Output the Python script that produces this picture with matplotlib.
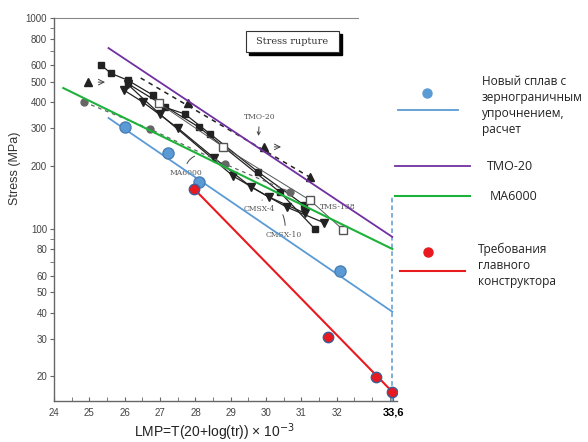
"""
Stress-rupture LMP chart: scanned reference alloys + new alloy estimate and design requirement.
"""
import numpy as np
import matplotlib.pyplot as plt
import matplotlib.ticker as mticker
from matplotlib.lines import Line2D
from matplotlib.patches import Rectangle

plt.rcParams['font.family'] = ['Liberation Sans', 'DejaVu Sans']

# ---- Data (LMP x 10^-3, stress MPa) ----
# new grain-boundary strengthened alloy, calculated
new_x = [26.02, 27.22, 28.10, 32.09]
new_y = [304, 229, 167, 63]
new_line_x = [25.54, 33.57]
new_line_y = [336, 40.5]

# chief designer requirements
req_x = [27.96, 31.75, 33.12, 33.57]
req_y = [155, 30.8, 19.9, 16.9]

tmo_line_x = [25.54, 33.57]
tmo_line_y = [721, 91.7]
ma_line_x = [24.26, 33.57]
ma_line_y = [466, 80.4]

# scanned literature data (black markers)
sqA_x = [25.34, 25.60, 26.08, 26.79, 27.13, 27.70, 28.42, 29.78, 31.07]
sqA_y = [598, 548, 508, 432, 378, 351, 282, 186, 130]
sqB_x = [26.08, 28.10, 30.38, 31.38]
sqB_y = [490, 304, 150, 100]
tdA_x = [25.97, 26.51, 27.50, 28.53, 29.58, 30.58, 31.64]
tdA_y = [456, 400, 301, 217, 158, 127, 107]
tdB_x = [26.08, 26.99, 29.07, 30.07, 31.09]
tdB_y = [486, 351, 178, 142, 119]
tms_x = [26.96, 28.79, 31.24, 32.18]
tms_y = [395, 245, 137, 99]
ma_x = [24.85, 26.71, 28.84, 30.67]
ma_y = [400, 298, 203, 150]
tmo_x = [24.97, 27.79, 29.95, 31.24]
tmo_y = [497, 395, 245, 176]
tmo_fit_x = [26.45, 31.24]
tmo_fit_y = [520, 176]

xticks = [24, 25, 26, 27, 28, 29, 30, 31, 32, 33.6]
xlabels = ['24', '25', '26', '27', '28', '29', '30', '31', '32', '33,6']
yticks = [20, 30, 40, 50, 60, 80, 100, 200, 300, 400, 500, 600, 800, 1000]

BLUE = '#5b9bd5'
PURPLE = '#7030a0'
GREEN = '#1db33a'
RED = '#e8191f'
INK = '#222222'

fig = plt.figure(figsize=(5.88, 4.42), dpi=100)
ax = fig.add_axes([0.092, 0.093, 0.583, 0.866])
ax.set_yscale('log')
ax.set_xlim(24, 33.7)
ax.set_ylim(15.3, 1000)

# ---- scanned series ----
ax.plot(sqA_x, sqA_y, 's-', color=INK, lw=0.9, ms=4.8, zorder=3)
ax.plot(sqB_x, sqB_y, 's-', color=INK, lw=0.9, ms=4.8, zorder=3)
ax.plot(tdA_x, tdA_y, 'v-', color=INK, lw=0.9, ms=6, zorder=3)
ax.plot(tdB_x, tdB_y, 'v-', color=INK, lw=0.9, ms=6, zorder=3)
ax.plot(tms_x, tms_y, 's-', color='#555555', mfc='white', lw=0.7, ms=5.5, zorder=3)
ax.plot(ma_x, ma_y, 'o--', color='#666666', lw=0.9, ms=5, dashes=(3, 3), zorder=3)
ax.plot(tmo_x, tmo_y, '^', color=INK, ms=6, zorder=3)
ax.plot(tmo_fit_x, tmo_fit_y, '--', color=INK, lw=1.1, dashes=(3, 3), zorder=3)

# small arrows next to TMO-20 points
for i in [0, 2]:
    ax.annotate('', xy=(tmo_x[i] + 0.55, tmo_y[i]), xytext=(tmo_x[i] + 0.2, tmo_y[i]),
                arrowprops=dict(arrowstyle='->', color='#444444', lw=0.7))

# ---- coloured lines ----
ax.plot(tmo_line_x, tmo_line_y, color=PURPLE, lw=1.3, zorder=4)
ax.plot(ma_line_x, ma_line_y, color=GREEN, lw=1.5, zorder=4)
ax.plot(new_line_x, new_line_y, color=BLUE, lw=1.3, zorder=4)
ax.plot(req_x[::3], req_y[::3], color=RED, lw=1.5, zorder=4)
ax.plot(new_x, new_y, 'o', color=BLUE, mec='#4a7fb5', ms=8, zorder=5)
ax.plot(req_x, req_y, 'o', color=RED, mec='#3a5f9a', ms=7.5, zorder=5)
ax.plot([33.57, 33.57], [15.3, 145], color=BLUE, lw=1.1, ls=(0, (3, 2)), zorder=2)

# ---- alloy labels ----
lab = dict(fontsize=5.5, family='DejaVu Serif', color='#555555', ha='center', va='center')
lead = dict(arrowstyle='-', color='#444444', lw=0.7)
ax.annotate('TMO-20', xy=(29.78, 268), xytext=(29.81, 339), arrowprops=dict(arrowstyle='->', color='#444444', lw=0.7), **lab)
ax.annotate('MA6000', xy=(28.05, 224), xytext=(27.73, 184),
            arrowprops=dict(connectionstyle='arc3,rad=-0.4', **lead), **lab)
ax.annotate('CMSX-4', xy=(29.95, 140), xytext=(29.81, 124),
            arrowprops=dict(connectionstyle='arc3,rad=-0.3', **lead), **lab)
ax.annotate('CMSX-10', xy=(30.44, 120), xytext=(30.50, 93.7),
            arrowprops=dict(connectionstyle='arc3,rad=0.2', **lead), **lab)
ax.text(32.03, 127, 'TMS-138', **lab)

# ---- axes styling ----
for s in ['top', 'right']:
    ax.spines[s].set_visible(False)
for s in ['left', 'bottom']:
    ax.spines[s].set_color('#666666')
    ax.spines[s].set_linewidth(1.0)
ax.plot([24, 32.6], [1000, 1000], color='#888888', lw=0.8, clip_on=False)

ax.set_yticks(yticks)
ax.set_yticklabels([str(v) for v in yticks])
ax.yaxis.set_minor_locator(mticker.FixedLocator([70, 90, 700, 900]))
ax.yaxis.set_minor_formatter(mticker.NullFormatter())
ax.set_xticks(xticks)
ax.set_xticklabels(xlabels)
ax.xaxis.set_minor_locator(mticker.FixedLocator(np.arange(24.5, 33.6, 0.5)))
ax.tick_params(axis='y', which='both', direction='out', length=3, color='#666666',
               labelsize=7, labelcolor='#444444', pad=2)
ax.tick_params(axis='x', which='both', direction='in', length=3, color='#666666',
               labelsize=7, labelcolor='#444444', pad=5)
lbls = ax.get_xticklabels()
lbls[-1].set_fontweight('bold')
lbls[-1].set_color('black')
lbls[-1].set_fontsize(8)

fig.text(15 / 588, 1 - 168 / 442, 'Stress (MPa)', rotation=90, ha='center', va='center',
         fontsize=9, color='#333333')
fig.text(215 / 588, 1 - 432 / 442, r'LMP=T(20+log(tr)) × 10$^{-3}$', ha='center', va='center',
         fontsize=10, color='#222222')

# ---- "Stress rupture" box ----
def fx(px):
    return px / 588

def fy(py):
    return 1 - py / 442

fig.add_artist(Rectangle((fx(249), fy(55)), 93 / 588, 21 / 442, transform=fig.transFigure,
                         facecolor='black', edgecolor='black', zorder=5))
fig.add_artist(Rectangle((fx(246), fy(52)), 93 / 588, 21 / 442, transform=fig.transFigure,
                         facecolor='white', edgecolor='#333333', lw=0.8, zorder=6))
fig.text(fx(292), fy(41.5), 'Stress rupture', ha='center', va='center', fontsize=7,
         family='DejaVu Serif', color='#333333', zorder=7)

# ---- legend (manual) ----
leg_font = ['Open Sans', 'DejaVu Sans']
fig.add_artist(Line2D([fx(427)], [fy(93)], marker='o', color=BLUE, ms=6.5, ls='none',
                      transform=fig.transFigure))
fig.add_artist(Line2D([fx(398), fx(458)], [fy(110), fy(110)], color=BLUE, lw=1.3,
                      transform=fig.transFigure))
fig.text(fx(482), fy(75), 'Новый сплав с\nзернограничным\nупрочнением,\nрасчет', ha='left',
         va='top', fontsize=8.6, linespacing=1.3, family=leg_font, color='#222222')

fig.add_artist(Line2D([fx(395), fx(470)], [fy(166), fy(166)], color=PURPLE, lw=1.3,
                      transform=fig.transFigure))
fig.text(fx(487), fy(166), 'TMO-20', ha='left', va='center', fontsize=9, family=leg_font,
         color='#222222')

fig.add_artist(Line2D([fx(395), fx(470)], [fy(196), fy(196)], color=GREEN, lw=1.5,
                      transform=fig.transFigure))
fig.text(fx(490), fy(196), 'MA6000', ha='left', va='center', fontsize=9, family=leg_font,
         color='#222222')

fig.add_artist(Line2D([fx(428)], [fy(252)], marker='o', color=RED, ms=6.5, ls='none',
                      transform=fig.transFigure))
fig.add_artist(Line2D([fx(400), fx(465)], [fy(271), fy(271)], color=RED, lw=1.5,
                      transform=fig.transFigure))
fig.text(fx(478), fy(243), 'Требования\nглавного\nконструктора', ha='left', va='top',
         fontsize=8.6, linespacing=1.3, family=leg_font, color='#222222')

fig.savefig('out.png', dpi=100)
